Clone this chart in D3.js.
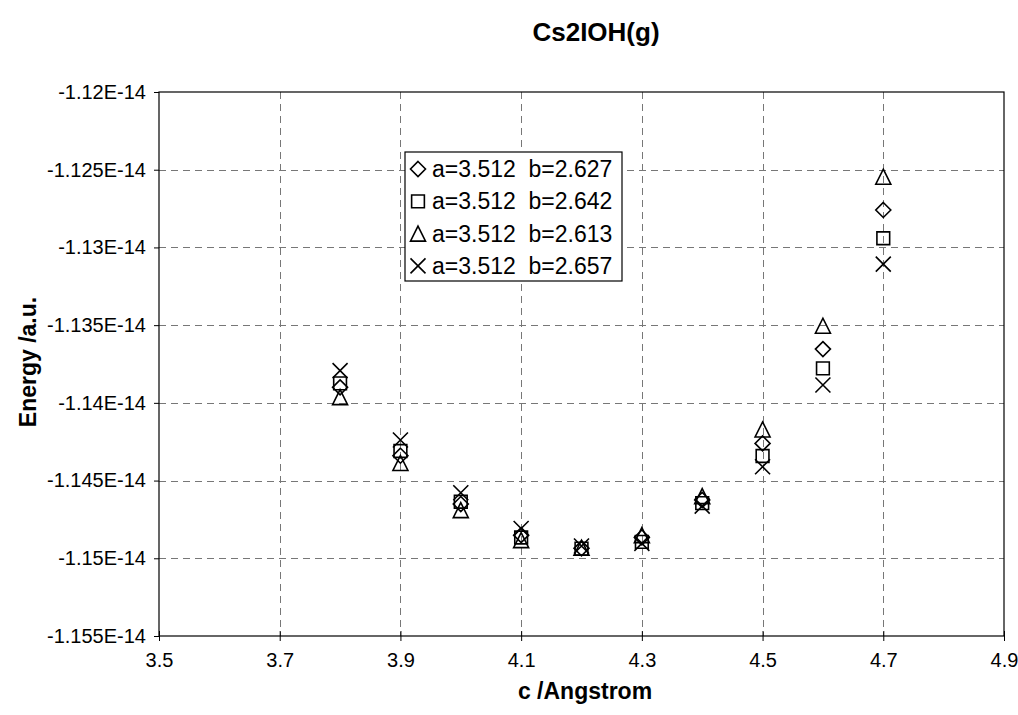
<!DOCTYPE html>
<html>
<head>
<meta charset="utf-8">
<script src="https://cdn.jsdelivr.net/npm/d3@7"></script>
<style>
  html, body { margin: 0; padding: 0; background: #fff; }
  svg { display: block; }
  text { font-family: Arial, "Liberation Sans", sans-serif; fill: #000; }
</style>
</head>
<body>
<svg id="chart" width="1018" height="715"></svg>
<script>
// Cs2IOH(g): total energy vs. lattice parameter c for four values of b (a fixed)
const cValues = [3.8, 3.9, 4.0, 4.1, 4.2, 4.3, 4.4, 4.5, 4.6, 4.7];

const seriesNames = [
  "a=3.512  b=2.627",
  "a=3.512  b=2.642",
  "a=3.512  b=2.613",
  "a=3.512  b=2.657"
];
const seriesSymbols = ["diamond", "square", "triangle", "cross"];

// energies, a.u.
const energyB2627 = [-1.13900e-14, -1.14340e-14, -1.14651e-14, -1.14851e-14, -1.14936e-14, -1.14866e-14, -1.14625e-14, -1.14261e-14, -1.13654e-14, -1.12759e-14];
const energyB2642 = [-1.13875e-14, -1.14310e-14, -1.14636e-14, -1.14866e-14, -1.14938e-14, -1.14894e-14, -1.14645e-14, -1.14342e-14, -1.13778e-14, -1.12941e-14];
const energyB2613 = [-1.13963e-14, -1.14387e-14, -1.14690e-14, -1.14883e-14, -1.14932e-14, -1.14851e-14, -1.14600e-14, -1.14171e-14, -1.13504e-14, -1.12545e-14];
const energyB2657 = [-1.13793e-14, -1.14239e-14, -1.14578e-14, -1.14808e-14, -1.14921e-14, -1.14904e-14, -1.14664e-14, -1.14411e-14, -1.13885e-14, -1.13107e-14];

const xTicks = [3.5, 3.7, 3.9, 4.1, 4.3, 4.5, 4.7, 4.9];
const yTicks = [-1.155e-14, -1.15e-14, -1.145e-14, -1.14e-14, -1.135e-14, -1.13e-14, -1.125e-14, -1.12e-14];

const chartTitle = "Cs2IOH(g)";
const xTitle = "c /Angstrom";
const yTitle = "Energy /a.u.";

const seriesValues = [energyB2627, energyB2642, energyB2613, energyB2657];

const plot = { left: 159, right: 1004, top: 92, bottom: 636 };

const svg = d3.select("#chart");
svg.append("rect").attr("width", 1018).attr("height", 715).attr("fill", "#fff");

const x = d3.scaleLinear().domain([3.5, 4.9]).range([plot.left, plot.right]);
const y = d3.scaleLinear().domain([-1.155e-14, -1.12e-14]).range([plot.bottom, plot.top]);

const fmtY = v => String(+(v / 1e-14).toFixed(3)) + "E-14";

// dashed grid
const grid = svg.append("g").attr("stroke", "#777").attr("stroke-width", 1.2)
  .attr("stroke-dasharray", "7,5").attr("shape-rendering", "crispEdges");
grid.selectAll("line.v").data(xTicks.slice(1, -1)).join("line")
  .attr("x1", d => Math.round(x(d)) + 0.5).attr("x2", d => Math.round(x(d)) + 0.5)
  .attr("y1", plot.top).attr("y2", plot.bottom);
grid.selectAll("line.h").data(yTicks.slice(1, -1)).join("line")
  .attr("y1", d => Math.round(y(d)) + 0.5).attr("y2", d => Math.round(y(d)) + 0.5)
  .attr("x1", plot.left).attr("x2", plot.right);

// plot-area frame
svg.append("rect")
  .attr("x", plot.left).attr("y", plot.top)
  .attr("width", plot.right - plot.left).attr("height", plot.bottom - plot.top)
  .attr("fill", "none").attr("stroke", "#000").attr("stroke-width", 1.2);

// axes with tick marks crossing the axis line
const xAxis = d3.axisBottom(x).tickValues(xTicks).tickFormat(d3.format(".1f"))
  .tickSizeInner(5).tickSizeOuter(0).tickPadding(12);
const gx = svg.append("g").attr("transform", `translate(0,${plot.bottom})`).call(xAxis);
gx.select(".domain").remove();
gx.selectAll(".tick line").attr("y1", -5).attr("y2", 5).attr("stroke", "#000");
gx.selectAll(".tick text").attr("font-size", 20).attr("font-family", "Arial, 'Liberation Sans', sans-serif");

const yAxis = d3.axisLeft(y).tickValues(yTicks).tickFormat(fmtY)
  .tickSizeInner(5).tickSizeOuter(0).tickPadding(8);
const gy = svg.append("g").attr("transform", `translate(${plot.left},0)`).call(yAxis);
gy.select(".domain").remove();
gy.selectAll(".tick line").attr("x1", -5).attr("x2", 0).attr("stroke", "#000");
gy.selectAll(".tick text").attr("font-size", 20).attr("font-family", "Arial, 'Liberation Sans', sans-serif");

// titles
svg.append("text").attr("x", 596).attr("y", 41).attr("text-anchor", "middle")
  .attr("font-size", 26).attr("font-weight", "bold").text(chartTitle);
svg.append("text").attr("x", 585).attr("y", 699).attr("text-anchor", "middle")
  .attr("font-size", 23).attr("font-weight", "bold").text(xTitle);
svg.append("text").attr("transform", "translate(36,362) rotate(-90)").attr("text-anchor", "middle")
  .attr("font-size", 23).attr("font-weight", "bold").text(yTitle);

// marker shapes
function symbolPath(kind, s) {
  const h = s / 2;
  switch (kind) {
    case "diamond": return `M0,${-h}L${h},0L0,${h}L${-h},0Z`;
    case "square": { const q = h * 0.85; return `M${-q},${-q}H${q}V${q}H${-q}Z`; }
    case "triangle": return `M0,${-h}L${h},${h}H${-h}Z`;
    case "cross": return `M${-h},${-h}L${h},${h}M${h},${-h}L${-h},${h}`;
  }
}
const markerSize = 15;

const marks = svg.append("g").attr("fill", "none").attr("stroke", "#000").attr("stroke-width", 1.6);
seriesValues.forEach((vals, i) => {
  marks.append("g").selectAll("path").data(cValues.map((c, j) => [c, vals[j]])).join("path")
    .attr("transform", d => `translate(${x(d[0])},${y(d[1])})`)
    .attr("d", symbolPath(seriesSymbols[i], markerSize));
});

// legend
const legend = svg.append("g").attr("transform", "translate(405,152)");
legend.append("rect").attr("width", 217).attr("height", 129)
  .attr("fill", "#fff").attr("stroke", "#000").attr("stroke-width", 1.2);
seriesNames.forEach((name, i) => {
  const cy = 17 + i * 32.3;
  legend.append("path").attr("transform", `translate(13,${cy})`)
    .attr("d", symbolPath(seriesSymbols[i], markerSize))
    .attr("fill", "none").attr("stroke", "#000").attr("stroke-width", 1.6);
  legend.append("text").attr("x", 27).attr("y", cy + 8).attr("font-size", 23)
    .style("white-space", "pre").text(name);
});
</script>
</body>
</html>
